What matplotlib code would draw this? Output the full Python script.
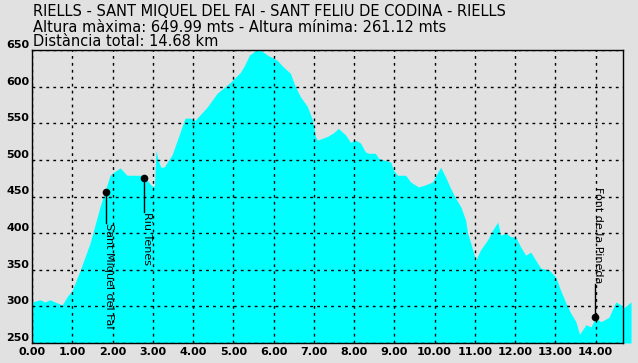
"""Elevation profile: Riells - Sant Miquel del Fai - Sant Feliu de Codina - Riells."""

import matplotlib

matplotlib.use("Agg")
import matplotlib.pyplot as plt
from matplotlib.ticker import FormatStrFormatter

# profile (km, metres)
distance_km = [
    0.00, 0.20, 0.32, 0.45, 0.57, 0.75, 0.87, 1.00, 1.20, 1.44, 1.69, 1.94,
    2.00, 2.19, 2.36, 2.69, 2.79, 2.89, 2.99, 3.04, 3.08, 3.13, 3.20, 3.28,
    3.48, 3.61, 3.80, 3.93, 4.05, 4.35, 4.60, 4.93, 5.17, 5.27, 5.40, 5.55,
    5.62, 5.72, 5.85, 6.09, 6.24, 6.42, 6.54, 6.67, 6.84, 6.97, 7.04, 7.09,
    7.34, 7.49, 7.61, 7.79, 7.91, 8.03, 8.16, 8.28, 8.36, 8.53, 8.61, 8.91,
    8.98, 9.08, 9.28, 9.40, 9.60, 9.78, 9.95, 10.15, 10.27, 10.40, 10.52,
    10.65, 10.77, 10.82, 10.90, 11.02, 11.14, 11.32, 11.44, 11.57, 11.64,
    11.77, 11.89, 12.01, 12.14, 12.26, 12.39, 12.51, 12.64, 12.84, 13.01,
    13.13, 13.26, 13.38, 13.51, 13.60, 13.70, 13.76, 13.88, 14.00, 14.13,
    14.33, 14.50, 14.63, 14.70, 14.88,
]
altitude_m = [
    306, 309, 306, 309, 306, 302, 313, 322, 350, 386, 436, 479,
    482, 489, 479, 479, 477, 470, 464, 464, 513, 500, 490, 490,
    507, 527, 557, 557, 554, 572, 591, 606, 619, 628, 643, 649,
    650, 648, 643, 636, 627, 618, 600, 586, 573, 554, 532, 527,
    532, 537, 543, 534, 524, 527, 523, 511, 509, 509, 502, 497,
    486, 479, 479, 470, 463, 466, 470, 490, 477, 461, 448,
    436, 418, 400, 386, 363, 377, 391, 404, 415, 397,
    400, 395, 395, 381, 370, 374, 363, 352, 350, 340,
    322, 305, 291, 279, 262, 270, 275, 272, 284, 279,
    285, 306, 302, 298, 306,
]

# waypoints: name, km, altitude, where the label line ends
waypoint_names = ["Sant Miquel del Fai", "Riu Tenes", "Font de la Pineda"]
waypoint_km = [1.84, 2.79, 13.98]
waypoint_alt = [456, 475, 285]
waypoint_label_alt = [414, 429, 331]

title_lines = [
    "RIELLS - SANT MIQUEL DEL FAI - SANT FELIU DE CODINA - RIELLS",
    "Altura màxima: 649.99 mts - Altura mínima: 261.12 mts",
    "Distància total: 14.68 km",
]
x_ticks = list(range(0, 15))
y_ticks = list(range(250, 651, 50))

BG = "#e1e1e1"
W, H = 638, 363

fig = plt.figure(figsize=(W / 100, H / 100), dpi=100, facecolor=BG)
ax = fig.add_axes([32 / W, 20 / H, (623 - 32) / W, (343 - 50) / H], facecolor=BG)

ax.fill_between(distance_km, altitude_m, 250, color="#00ffff", lw=0,
                zorder=1, clip_on=False)

ax.set_xlim(0, 14.68)
ax.set_ylim(250, 650)
ax.set_xticks(x_ticks)
ax.set_yticks(y_ticks)
ax.xaxis.set_major_formatter(FormatStrFormatter("%.2f"))
ax.tick_params(length=0, labelsize=8, colors="black")
ax.tick_params(axis="x", pad=3)
ax.tick_params(axis="y", pad=2)
for lbl in ax.get_yticklabels():
    lbl.set_va("bottom")
for lbl in ax.get_xticklabels() + ax.get_yticklabels():
    lbl.set_fontweight("bold")

ax.set_axisbelow(False)
ax.grid(True, color="black", lw=1, linestyle=(0, (2, 3)))
for sp in ax.spines.values():
    sp.set_color("black")
    sp.set_linewidth(1)

# waypoint markers with vertical labels
for name, km, alt, lab in zip(waypoint_names, waypoint_km, waypoint_alt,
                              waypoint_label_alt):
    ax.plot([km, km], [alt, lab], color="black", lw=1, zorder=3)
    ax.plot(km, alt, "o", color="black", ms=4.5, zorder=4)
    va = "top" if lab < alt else "bottom"
    ax.text(km + 0.07, lab, name, rotation=270, ha="center", va=va,
            fontsize=8, color="black", zorder=4)

# header text
for i, line in enumerate(title_lines):
    fig.text(33 / W, 1 - (16.5 + 15 * i) / H, line, fontsize=10.5,
             color="black", va="baseline", ha="left")

plt.savefig("out.png", dpi=100, facecolor=BG)
